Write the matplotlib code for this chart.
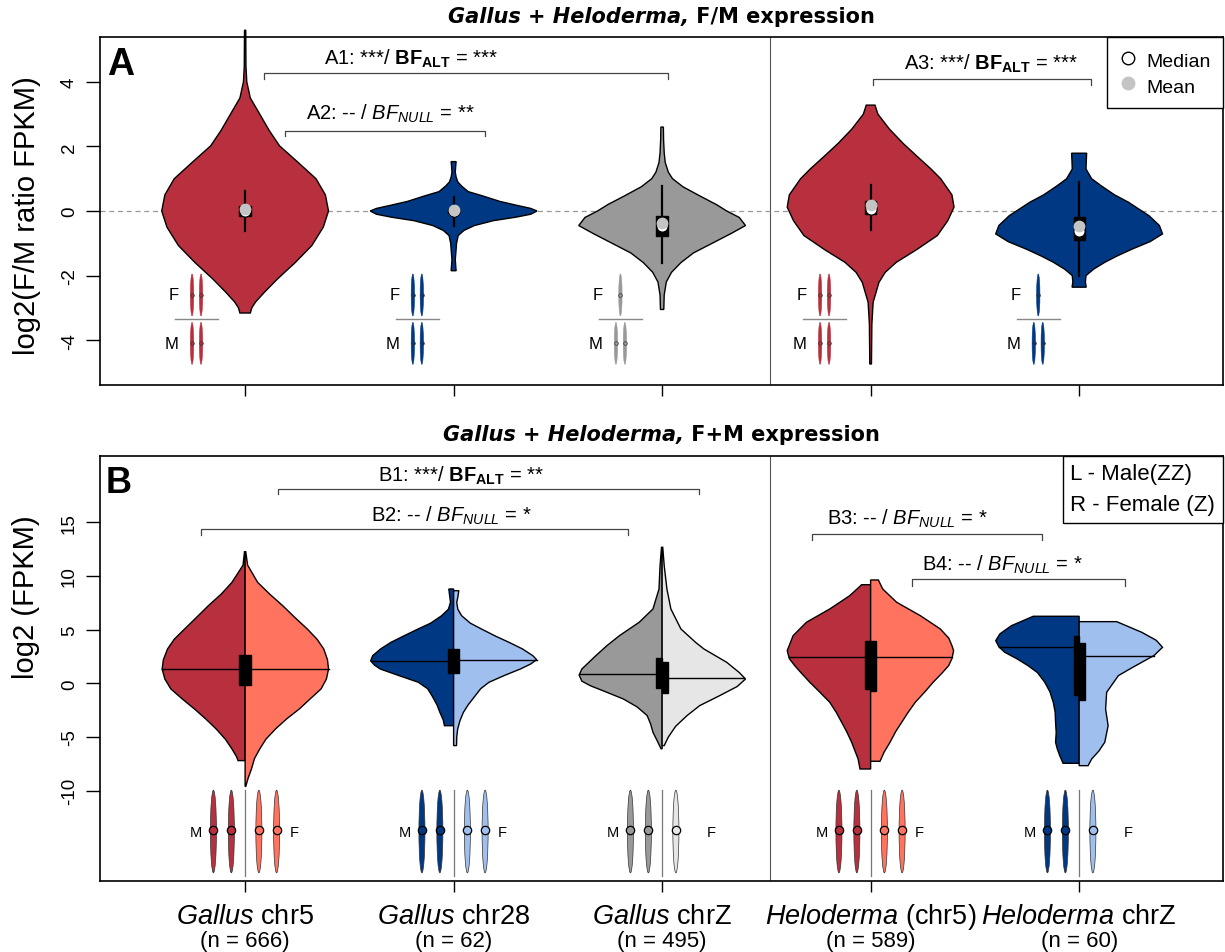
import numpy as np
import matplotlib
matplotlib.use('Agg')
import matplotlib.pyplot as plt
from matplotlib.patches import Polygon, Rectangle, Ellipse
from matplotlib.lines import Line2D
import matplotlib.transforms as mtransforms

plt.rcParams['font.family'] = ['Liberation Sans', 'DejaVu Sans']
plt.rcParams['mathtext.fontset'] = 'custom'
plt.rcParams['mathtext.rm'] = 'Liberation Sans'
plt.rcParams['mathtext.it'] = 'Liberation Sans:italic'
plt.rcParams['mathtext.bf'] = 'Liberation Sans:bold'

# ------------------------------------------------------------------ data
genus = ['Gallus', 'Gallus', 'Gallus', 'Heloderma', 'Heloderma']
chrom = ['chr5', 'chr28', 'chrZ', '(chr5)', 'chrZ']
n_genes = [666, 62, 495, 589, 60]
positions = [1, 2, 3, 4, 5]

# Panel A: F/M ratio violin profiles (y value, half-width)
fm_y = [
    [5.6, 4.5, 4.0, 3.5, 3.07, 2.5, 2.02, 1.5, 1.0, 0.5, 0.0, -0.5, -1.07, -1.6, -2.1, -2.5, -2.82, -3.0, -3.16],
    [1.53, 1.4, 1.2, 1.05, 0.9, 0.78, 0.6, 0.47, 0.3, 0.18, 0.08, 0.0, -0.1, -0.19, -0.3, -0.45, -0.6, -0.76, -1.0, -1.18, -1.5, -1.7, -1.85],
    [2.6, 2.2, 1.8, 1.5, 1.2, 1.0, 0.75, 0.47, 0.2, 0.0, -0.2, -0.45, -0.7, -1.0, -1.3, -1.6, -1.9, -2.2, -2.6, -3.05],
    [3.28, 3.0, 2.54, 2.1, 1.71, 1.3, 1.0, 0.5, 0.12, -0.3, -0.76, -1.2, -1.59, -1.9, -2.21, -2.83, -3.5, -4.74],
    [1.79, 1.5, 1.3, 1.0, 0.78, 0.5, 0.27, -0.15, -0.45, -0.71, -0.95, -1.18, -1.4, -1.59, -1.8, -2.0, -2.2, -2.36],
]
fm_w = [
    [0.003, 0.004, 0.008, 0.025, 0.064, 0.115, 0.165, 0.255, 0.34, 0.385, 0.40, 0.375, 0.32, 0.24, 0.156, 0.095, 0.05, 0.032, 0.025],
    [0.012, 0.01, 0.008, 0.012, 0.02, 0.037, 0.07, 0.138, 0.22, 0.30, 0.37, 0.40, 0.37, 0.30, 0.19, 0.10, 0.05, 0.022, 0.014, 0.012, 0.008, 0.01, 0.012],
    [0.006, 0.007, 0.01, 0.015, 0.03, 0.05, 0.10, 0.18, 0.26, 0.31, 0.37, 0.40, 0.33, 0.24, 0.15, 0.09, 0.045, 0.02, 0.01, 0.008],
    [0.021, 0.035, 0.09, 0.155, 0.22, 0.29, 0.336, 0.39, 0.40, 0.37, 0.32, 0.22, 0.123, 0.07, 0.04, 0.012, 0.006, 0.004],
    [0.036, 0.034, 0.033, 0.06, 0.106, 0.17, 0.237, 0.336, 0.385, 0.40, 0.34, 0.254, 0.18, 0.123, 0.07, 0.033, 0.03, 0.034],
]
fm_whisk_lo = [-0.62, -0.45, -1.6, -0.6, -2.0]
fm_q1 = [-0.15, -0.05, -0.76, -0.09, -0.91]
fm_q3 = [0.15, 0.05, -0.15, 0.32, -0.2]
fm_whisk_hi = [0.62, 0.43, 0.78, 0.8, 0.89]
fm_median = [0.0, 0.0, -0.45, 0.06, -0.61]
fm_mean = [0.05, 0.02, -0.38, 0.2, -0.45]

# Panel B: F+M expression, split violins (male left, female right)
m_y = [
    [12.25, 11.0, 9.4, 8.3, 7.23, 6.1, 5.06, 4.1, 3.2, 2.2, 1.33, 0.4, -0.53, -1.4, -2.39, -3.3, -4.25, -5.2, -6.12, -6.8, -7.2],
    [8.78, 8.3, 7.54, 6.9, 6.3, 5.6, 5.06, 4.4, 3.82, 3.2, 2.57, 2.1, 1.7, 1.33, 0.7, 0.1, -0.5, -1.15, -2.0, -2.7, -3.4, -3.95],
    [12.66, 10.95, 8.78, 6.92, 5.68, 4.43, 3.5, 2.57, 1.33, 0.77, 0.2, -0.22, -0.8, -1.46, -2.2, -3.0, -3.8, -4.56, -5.3, -6.1],
    [9.18, 8.16, 6.92, 5.68, 4.43, 3.04, 2.3, 1.64, 0.9, 0.1, -0.8, -1.77, -2.7, -3.63, -4.5, -5.49, -6.3, -7.05, -7.98],
    [6.24, 5.36, 4.6, 3.97, 3.4, 2.89, 2.3, 1.64, 1.0, 0.1, -0.8, -1.77, -2.7, -3.63, -4.6, -5.49, -6.1, -6.74, -7.45],
]
m_w = [
    [0.003, 0.01, 0.063, 0.115, 0.176, 0.235, 0.29, 0.34, 0.372, 0.392, 0.398, 0.385, 0.356, 0.305, 0.243, 0.19, 0.139, 0.095, 0.063, 0.042, 0.034],
    [0.023, 0.02, 0.015, 0.025, 0.057, 0.11, 0.17, 0.24, 0.30, 0.35, 0.388, 0.398, 0.38, 0.352, 0.26, 0.17, 0.125, 0.104, 0.08, 0.066, 0.05, 0.044],
    [0.003, 0.01, 0.015, 0.044, 0.11, 0.205, 0.265, 0.318, 0.385, 0.398, 0.385, 0.345, 0.27, 0.186, 0.12, 0.072, 0.055, 0.044, 0.025, 0.005],
    [0.043, 0.10, 0.196, 0.308, 0.372, 0.40, 0.39, 0.364, 0.33, 0.292, 0.245, 0.196, 0.165, 0.139, 0.115, 0.091, 0.075, 0.06, 0.051],
    [0.22, 0.325, 0.38, 0.40, 0.385, 0.357, 0.30, 0.245, 0.20, 0.165, 0.14, 0.124, 0.115, 0.113, 0.11, 0.113, 0.105, 0.093, 0.077],
]
f_y = [
    [12.25, 11.0, 9.4, 8.3, 7.23, 6.1, 5.06, 4.1, 3.2, 2.2, 1.33, 0.4, -0.53, -1.4, -2.39, -3.3, -4.25, -5.2, -6.12, -7.0, -8.0, -8.8, -9.6],
    [8.62, 8.0, 7.54, 6.9, 6.3, 5.6, 5.06, 4.4, 3.82, 3.2, 2.57, 2.2, 1.8, 1.33, 0.7, 0.1, -0.5, -1.15, -2.0, -2.7, -3.5, -4.3, -5.0, -5.8],
    [12.66, 10.95, 8.78, 6.92, 5.06, 3.82, 3.2, 1.95, 1.0, 0.4, -0.3, -1.15, -2.08, -3.0, -4.0, -5.0, -5.8],
    [9.62, 8.78, 7.54, 6.3, 5.06, 4.2, 3.5, 3.04, 2.3, 1.64, 0.9, 0.1, -0.8, -1.77, -2.7, -3.63, -4.5, -5.49, -6.4, -7.26],
    [5.74, 4.75, 4.0, 3.35, 2.6, 1.95, 1.3, 0.71, -0.84, -2.39, -3.95, -5.49, -6.3, -7.05, -7.67],
]
f_w = [
    [0.003, 0.012, 0.06, 0.118, 0.18, 0.24, 0.298, 0.345, 0.377, 0.395, 0.40, 0.39, 0.364, 0.315, 0.26, 0.20, 0.146, 0.10, 0.07, 0.045, 0.03, 0.015, 0.003],
    [0.025, 0.02, 0.015, 0.02, 0.038, 0.08, 0.133, 0.20, 0.265, 0.33, 0.38, 0.398, 0.37, 0.32, 0.24, 0.17, 0.13, 0.104, 0.07, 0.047, 0.03, 0.019, 0.015, 0.014],
    [0.003, 0.01, 0.023, 0.042, 0.09, 0.16, 0.20, 0.31, 0.37, 0.40, 0.36, 0.276, 0.18, 0.12, 0.065, 0.03, 0.01],
    [0.037, 0.058, 0.125, 0.238, 0.334, 0.375, 0.39, 0.398, 0.39, 0.374, 0.34, 0.30, 0.26, 0.214, 0.18, 0.149, 0.12, 0.093, 0.065, 0.045],
    [0.18, 0.30, 0.37, 0.40, 0.36, 0.30, 0.24, 0.188, 0.132, 0.127, 0.139, 0.123, 0.095, 0.06, 0.043],
]
m_median = [1.33, 2.1, 0.87, 2.48, 3.41]
f_median = [1.33, 2.2, 0.5, 2.48, 2.57]
m_q1 = [-0.2, 0.96, -0.47, -0.53, -1.09]
m_q3 = [2.66, 3.2, 2.33, 3.91, 4.38]
f_q1 = [-0.2, 0.96, -0.93, -0.71, -1.53]
f_q3 = [2.6, 3.2, 2.0, 3.91, 3.72]

# replicate counts shown in the small glyphs
n_female_reps = [2, 2, 1, 2, 1]
n_male_reps = [2, 2, 2, 2, 2]

RED = '#B8303E'
SALMON = '#FF735F'
DBLUE = '#003884'
LBLUE = '#9FBFEF'
GRAY = '#999999'
LGRAY = '#E6E6E6'
male_cols = [RED, DBLUE, GRAY, RED, DBLUE]
female_cols = [SALMON, LBLUE, LGRAY, SALMON, LBLUE]
MEANCOL = '#C4C4C4'

W, H = 1225, 953
fig = plt.figure(figsize=(W / 100, H / 100), dpi=100)
axA = fig.add_axes([100 / W, 1 - 386 / H, 1123 / W, 348 / H])
axB = fig.add_axes([100 / W, 1 - 881.7 / H, 1123 / W, 425 / H])

for ax in (axA, axB):
    ax.set_xlim(0.304, 5.69)
    ax.set_xticks(positions)
    ax.set_xticklabels([])
    for s in ax.spines.values():
        s.set_linewidth(1.2)
    ax.tick_params(axis='y', direction='out', length=10, width=1.0, pad=6, labelsize=13.5)
    ax.tick_params(axis='x', direction='out', length=8, width=1.0)
    ax.axvline(3.515, color='#555555', lw=0.8, zorder=1)

axA.set_ylim(-5.39, 5.39)
axB.set_ylim(-18.38, 21.19)
axA.set_yticks([-4, -2, 0, 2, 4])
axA.set_yticklabels(['-4', '-2', '0', '2', '4'], rotation=90, va='center')
axB.set_yticks([-10, -5, 0, 5, 10, 15])
axB.set_yticklabels(['-10', '-5', '0', '5', '10', '15'], rotation=90, va='center')

axA.axhline(0, color='#9A9A9A', ls=(0, (4, 3)), lw=0.9, zorder=1)

# ---------------- panel A violins
for i, x in enumerate(positions):
    ys = np.asarray(fm_y[i]); ws = np.asarray(fm_w[i])
    pts = np.concatenate([np.column_stack([x + ws, ys]),
                          np.column_stack([x - ws[::-1], ys[::-1]])])
    axA.add_patch(Polygon(pts, closed=True, fc=male_cols[i], ec='black', lw=1.0,
                          zorder=3, clip_on=False))
    axA.plot([x, x], [fm_whisk_lo[i], fm_whisk_hi[i]], color='black', lw=1.6, zorder=4)
    axA.add_patch(Rectangle((x - 0.027, fm_q1[i]), 0.054, fm_q3[i] - fm_q1[i],
                            fc='black', ec='black', zorder=4))
    axA.plot(x, fm_median[i], 'o', mfc='white', mec='black', mew=0.8, ms=8, zorder=5)
    axA.plot(x, fm_mean[i], 'o', mfc=MEANCOL, mec='none', ms=8.5, zorder=6)

# small F / M glyphs (panel A)
glyphA_off = [-0.233, -0.174, -0.2, -0.221, -0.196]
for i, x in enumerate(positions):
    cx = x + glyphA_off[i]
    col = male_cols[i]
    for yc, nrep in ((-2.6, n_female_reps[i]), (-4.1, n_male_reps[i])):
        offs = [0.0] if nrep == 1 else [-0.0215, 0.0215]
        for o in offs:
            axA.add_patch(Ellipse((cx + o, yc), 0.016, 1.3, fc=col, ec=col, lw=0.4, zorder=3))
            axA.plot(cx + o, yc, 'o', ms=2.6, mfc=col, mec='#333333', mew=0.5, zorder=4)
    axA.plot([cx - 0.104, cx + 0.104], [-3.35, -3.35], color='#888888', lw=1.0)
    axA.text(cx - 0.085, -2.6, 'F', fontsize=12, ha='right', va='center')
    axA.text(cx - 0.085, -4.1, 'M', fontsize=12, ha='right', va='center')

# ---------------- panel B split violins
for i, x in enumerate(positions):
    for side, ys, ws, col, med, q1, q3 in (
            (-1, m_y[i], m_w[i], male_cols[i], m_median[i], m_q1[i], m_q3[i]),
            (1, f_y[i], f_w[i], female_cols[i], f_median[i], f_q1[i], f_q3[i])):
        ys = np.asarray(ys); ws = np.asarray(ws)
        pts = np.concatenate([np.column_stack([x + side * ws, ys]),
                              [[x, ys[-1]], [x, ys[0]]]])
        axB.add_patch(Polygon(pts, closed=True, fc=col, ec='black', lw=1.0, zorder=3))
        wm = np.interp(med, ys[::-1], ws[::-1])
        axB.plot([x, x + side * wm], [med, med], color='black', lw=1.0, zorder=4)
        left = x - 0.027 if side < 0 else x
        axB.add_patch(Rectangle((left, q1), 0.027, q3 - q1, fc='black', ec='black', zorder=5))

# small M / F glyphs (panel B)
for i, x in enumerate(positions):
    yc = -13.8
    m_offs = [-0.152, -0.066][:n_male_reps[i]]
    f_offs = [0.066, 0.151][:n_female_reps[i]]
    for offs, col in ((m_offs, male_cols[i]), (f_offs, female_cols[i])):
        for o in offs:
            axB.add_patch(Ellipse((x + o, yc), 0.029, 7.7, fc=col, ec='#333333', lw=0.5, zorder=3))
            axB.plot(x + o, yc + 0.1, 'o', ms=6, mfc=col, mec='black', mew=0.9, zorder=4)
    axB.plot([x, x], [-9.9, -17.9], color='#777777', lw=0.9, zorder=2)
    axB.text(x - 0.235, yc, 'M', fontsize=10.5, ha='center', va='center')
    axB.text(x + 0.235, yc, 'F', fontsize=10.5, ha='center', va='center')

# ---------------- significance brackets
def bracket(ax, x1, x2, ybar, ytick, label, tx, ty):
    ax.plot([x1, x1, x2, x2], [ytick, ybar, ybar, ytick], color='#444444', lw=0.9, zorder=2)
    ax.text(tx, ty, label, fontsize=14.5, ha='left', va='baseline')

ALT = r'$\mathbf{BF}_{\mathbf{ALT}}$'
NUL = r'$\mathit{BF}_{\mathit{NULL}}$'
bracket(axA, 1.09, 3.03, 4.26, 4.09, 'A1: ***/ ' + ALT + ' = ***', 1.379, 4.55)
bracket(axA, 1.19, 2.15, 2.49, 2.32, 'A2: -- / ' + NUL + ' = **', 1.293, 2.85)
bracket(axA, 4.01, 5.055, 4.09, 3.90, 'A3: ***/ ' + ALT + ' = ***', 4.16, 4.42)
bracket(axB, 1.16, 3.176, 18.09, 17.6, 'B1: ***/ ' + ALT + ' = **', 1.636, 18.86)
bracket(axB, 0.79, 2.835, 14.37, 13.8, 'B2: -- / ' + NUL + ' = *', 1.602, 15.14)
bracket(axB, 3.72, 4.82, 13.9, 13.37, 'B3: -- / ' + NUL + ' = *', 3.791, 14.83)
bracket(axB, 4.2, 5.22, 9.71, 9.09, 'B4: -- / ' + NUL + ' = *', 4.248, 10.58)

# ---------------- legends
hA = [Line2D([], [], ls='none', marker='o', mfc='white', mec='black', ms=9),
      Line2D([], [], ls='none', marker='o', mfc=MEANCOL, mec='none', ms=10)]
legA = axA.legend(hA, ['Median', 'Mean'], loc='upper right', borderaxespad=0,
                  fontsize=14, fancybox=False, edgecolor='black', framealpha=1,
                  handlelength=0.8, handleheight=1.25, handletextpad=0.55,
                  borderpad=0.65, labelspacing=0.22)
legA.get_frame().set_linewidth(1.0)
hB = [Line2D([], [], ls='none'), Line2D([], [], ls='none')]
legB = axB.legend(hB, ['L - Male(ZZ)', 'R - Female (Z)'], loc='upper right', borderaxespad=0,
                  fontsize=16, fancybox=False, edgecolor='black', framealpha=1,
                  handlelength=0, handletextpad=0, borderpad=0.35, labelspacing=0.45)
legB.get_frame().set_linewidth(1.0)

# panel letters
axA.text(0.0062, 0.894, 'A', transform=axA.transAxes, fontsize=27, fontweight='bold',
         ha='left', va='baseline')
axB.text(0.0052, 0.9146, 'B', transform=axB.transAxes, fontsize=26, fontweight='bold',
         ha='left', va='baseline')

# y labels
axA.set_ylabel('log2(F/M ratio FPKM)', fontsize=21)
axA.yaxis.label.set(ha='center', va='center')
axA.yaxis.set_label_coords(-0.0654, 0.491)
axB.set_ylabel('log2 (FPKM)', fontsize=21)
axB.yaxis.label.set(ha='center', va='center')
axB.yaxis.set_label_coords(-0.0659, 0.669)

# x category labels
trans = mtransforms.blended_transform_factory(axB.transData, fig.transFigure)
for i, x in enumerate(positions):
    fig.text(x, 1 - 924 / H, r'$\mathit{' + genus[i] + '}$ ' + chrom[i], transform=trans,
             fontsize=19.5, ha='center', va='baseline')
    fig.text(x, 1 - 947 / H, '(n = %d)' % n_genes[i], transform=trans,
             fontsize=16, ha='center', va='baseline')

# titles (bold italic + bold)
renderer = fig.canvas.get_renderer()
def mixed_title(ypx, part1, part2, xc=661):
    y = 1 - ypx / H
    t1 = fig.text(0, y, part1, family='DejaVu Sans', weight='bold', style='italic',
                  fontsize=15, ha='left', va='center')
    t2 = fig.text(0, y, part2, family='DejaVu Sans', weight='bold',
                  fontsize=15, ha='left', va='center')
    w1 = t1.get_window_extent(renderer).width
    w2 = t2.get_window_extent(renderer).width
    x0 = xc - (w1 + w2) / 2
    t1.set_x(x0 / W)
    t2.set_x((x0 + w1) / W)

mixed_title(17, 'Gallus + Heloderma,', ' F/M expression')
mixed_title(435, 'Gallus + Heloderma,', ' F+M expression')

fig.savefig('out.png', dpi=100)
